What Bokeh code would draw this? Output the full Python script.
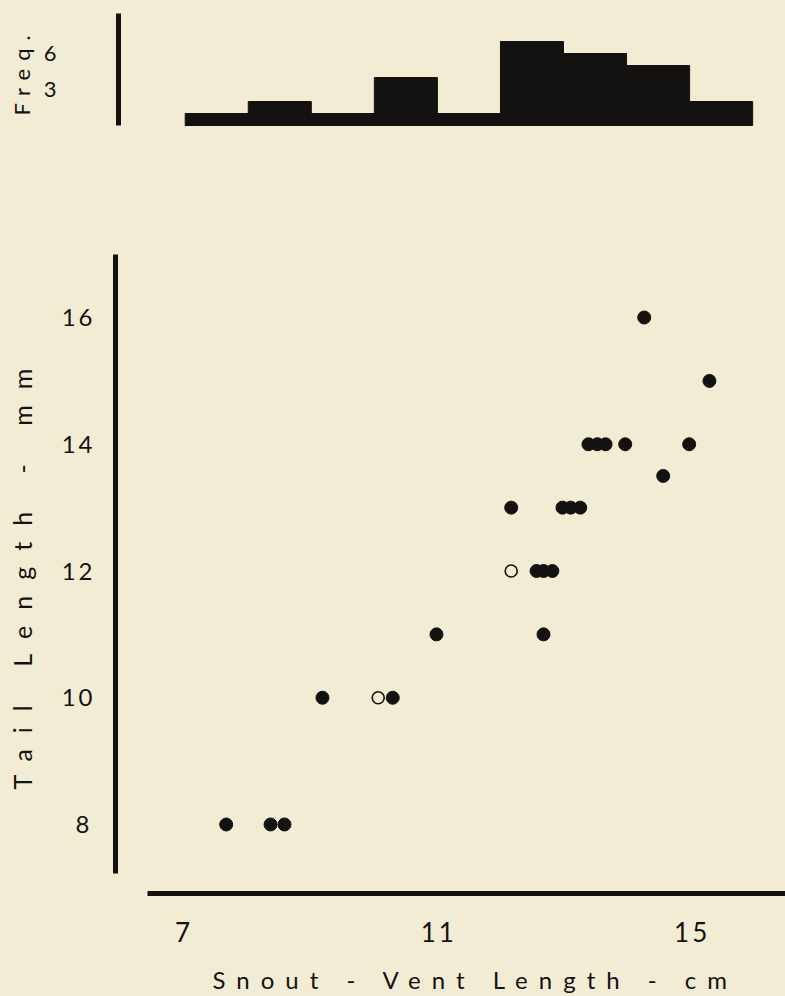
import math
from bokeh.plotting import figure
from bokeh.layouts import column, row
from bokeh.models import Range1d, FixedTicker, InlineStyleSheet, Label
from bokeh.embed import file_html
from bokeh.resources import INLINE

# ---- data ----
bin_left = [7, 8, 9, 10, 11, 12, 13, 14, 15]
bin_right = [8, 9, 10, 11, 12, 13, 14, 15, 16]
freq = [1, 2, 1, 4, 1, 7, 6, 5, 2]

filled_svl = [7.69, 8.39, 8.61, 9.21, 10.32, 11.01, 12.19, 12.59, 12.70, 12.84,
              12.70, 13.00, 13.13, 13.28, 13.41, 13.55, 13.68, 13.99, 14.29,
              14.59, 15.00, 15.32]
filled_tail = [8, 8, 8, 10, 10, 11, 13, 12, 12, 12,
               11, 13, 13, 13, 14, 14, 14, 14, 16,
               13.5, 14, 15]
open_svl = [10.09, 12.19]
open_tail = [10, 12]

x_ticks = [7, 11, 15]
y_ticks = [8, 10, 12, 14, 16]
freq_ticks = [3, 6]

freq_title = "Freq."
x_title = "Snout - Vent Length - cm"
y_title = "Tail Length - mm"

BG = "#f3ecd4"
INK = "#141210"
FONT = "Lato"


def spacing(px):
    return InlineStyleSheet(css=":host { letter-spacing: %dpx; }" % px)


def blank(w, h, ls):
    f = figure(width=w, height=h, x_range=Range1d(0, 1), y_range=Range1d(0, 1),
               output_backend="svg", toolbar_location=None, min_border=0,
               stylesheets=[spacing(ls)])
    f.axis.visible = False
    f.grid.visible = False
    f.outline_line_color = None
    f.background_fill_color = BG
    f.border_fill_color = BG
    return f


def style_axis(ax, ticks, size, standoff):
    ax.ticker = FixedTicker(ticks=ticks)
    ax.axis_line_width = 5
    ax.axis_line_color = INK
    ax.major_tick_line_color = None
    ax.minor_tick_line_color = None
    ax.major_label_standoff = standoff
    ax.major_label_text_font = FONT
    ax.major_label_text_font_size = size
    ax.major_label_text_color = INK


xr = Range1d(5.942, 16.521)

# ---- histogram row ----
ft = blank(40, 148, 8)
ft.add_layout(Label(x=21, y=25, x_units="screen", y_units="screen",
                    text=freq_title, angle=math.pi / 2, text_align="left",
                    text_baseline="middle", text_font=FONT,
                    text_font_size="22px", text_color=INK))

h = figure(width=745, height=148, x_range=xr, y_range=Range1d(-1.25, 10.417),
           output_backend="svg", toolbar_location=None,
           min_border_left=75, min_border_right=0, min_border_top=0,
           min_border_bottom=8)
h.quad(left=bin_left, right=bin_right, top=freq, bottom=0,
       fill_color=INK, line_color=INK, line_width=1)
h.xaxis.visible = False
h.grid.visible = False
h.outline_line_color = None
h.background_fill_color = BG
h.border_fill_color = BG
style_axis(h.yaxis[0], freq_ticks, "22px", 56)
h.yaxis[0].bounds = (0, 9.33)

# ---- scatter row ----
yt = blank(40, 808, 16)
yt.add_layout(Label(x=21, y=104, x_units="screen", y_units="screen",
                    text=y_title, angle=math.pi / 2, text_align="left",
                    text_baseline="middle", text_font=FONT,
                    text_font_size="25px", text_color=INK))

p = figure(width=745, height=808, x_range=xr, y_range=Range1d(6.911, 18.667),
           output_backend="svg", toolbar_location=None,
           min_border_left=75, min_border_right=0, min_border_top=0,
           min_border_bottom=63, stylesheets=[spacing(3)])
p.scatter(filled_svl, filled_tail, size=13, fill_color=INK, line_color=INK)
p.scatter(open_svl, open_tail, size=12, fill_color=BG, line_color=INK,
          line_width=1.6)
p.grid.visible = False
p.outline_line_color = None
p.background_fill_color = BG
p.border_fill_color = BG
style_axis(p.xaxis[0], x_ticks, "26px", 22)
p.xaxis[0].bounds = (6.447, 16.521)
style_axis(p.yaxis[0], y_ticks, "24px", 20)
p.yaxis[0].bounds = (7.23, 17.0)

# ---- x title ----
xt = blank(785, 40, 11)
xt.add_layout(Label(x=212, y=17, x_units="screen", y_units="screen",
                    text=x_title, text_align="left", text_baseline="middle",
                    text_font=FONT, text_font_size="24px", text_color=INK))

layout = column(row(ft, h, spacing=0), row(yt, p, spacing=0), xt, spacing=0,
                styles={"background-color": BG})
open("out.html", "w").write(file_html(layout, INLINE))
